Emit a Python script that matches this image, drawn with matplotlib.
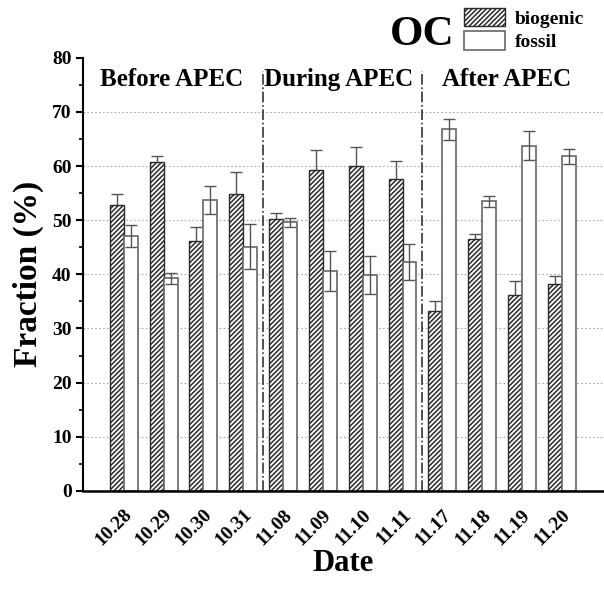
import matplotlib
matplotlib.use('Agg')
import matplotlib.pyplot as plt
from matplotlib.patches import Patch
import matplotlib.transforms as mtransforms
import numpy as np

dates = ['10.28', '10.29', '10.30', '10.31', '11.08', '11.09',
         '11.10', '11.11', '11.17', '11.18', '11.19', '11.20']
biogenic = [52.8, 60.7, 46.2, 54.9, 50.3, 59.3, 60.0, 57.7, 33.2, 46.5, 36.2, 38.2]
biogenic_err = [2.0, 1.1, 2.5, 4.0, 1.0, 3.7, 3.5, 3.3, 1.8, 1.0, 2.6, 1.5]
fossil = [47.1, 39.3, 53.8, 45.1, 49.6, 40.6, 39.9, 42.3, 66.8, 53.5, 63.8, 61.8]
fossil_err = [2.0, 1.0, 2.6, 4.2, 0.9, 3.7, 3.5, 3.3, 1.9, 1.0, 2.7, 1.4]
periods = ['Before APEC', 'During APEC', 'After APEC']

plt.rcParams['font.family'] = ['Liberation Serif', 'DejaVu Serif']
plt.rcParams['font.weight'] = 'bold'
plt.rcParams['hatch.linewidth'] = 1.1

fig = plt.figure(figsize=(6.04, 5.9), dpi=100)
ax = fig.add_axes([0.137, 0.168, 0.863, 0.734])

x = np.arange(len(dates))
w = 0.35

# grid behind everything
for yv in range(10, 80, 10):
    ax.axhline(yv, color='#aaaaaa', linestyle=(0, (1.5, 2)), linewidth=0.8, zorder=0)

ax.errorbar(x - w / 2, biogenic, yerr=biogenic_err, fmt='none', ecolor='#555555',
            elinewidth=1.0, capsize=4, capthick=1.0, zorder=1)
ax.bar(x - w / 2, biogenic, w, color='white', edgecolor='#2a2a2a', hatch='///////',
       linewidth=1.0, zorder=2)
ax.bar(x + w / 2, fossil, w, color='white', edgecolor='#666666', linewidth=1.2, zorder=2)
ax.errorbar(x + w / 2, fossil, yerr=fossil_err, fmt='none', ecolor='#555555',
            elinewidth=1.0, capsize=4, capthick=1.0, zorder=3)

# period separators
for xv in [3.5, 7.5]:
    ax.plot([xv, xv], [0, 77.5], color='#333333', linestyle='-.', linewidth=1.2, zorder=3)

ax.text(1.2, 76, periods[0], fontsize=18, fontweight='bold', ha='center', va='center')
ax.text(5.4, 76, periods[1], fontsize=18, fontweight='bold', ha='center', va='center')
ax.text(9.62, 76, periods[2], fontsize=18, fontweight='bold', ha='center', va='center')

ax.set_xlim(-1.03, 12.06)
ax.set_ylim(0, 80)
ax.set_yticks(range(0, 81, 10))
ax.set_yticks(range(5, 80, 10), minor=True)
ax.set_xticks(x)
ax.set_xticklabels(dates, rotation=45, ha='right', rotation_mode='anchor',
                   fontsize=14, fontweight='bold')
shift = mtransforms.ScaledTranslation(14 / 100, 0, fig.dpi_scale_trans)
for lab in ax.get_xticklabels():
    lab.set_transform(lab.get_transform() + shift)
for lab in ax.get_yticklabels():
    lab.set_fontsize(14)
    lab.set_fontweight('bold')
ax.tick_params(axis='x', length=0, pad=11)
ax.tick_params(axis='y', which='major', direction='out', length=5, width=1.5, pad=3)
ax.tick_params(axis='y', which='minor', direction='out', length=3, width=1.2)

ax.spines['top'].set_visible(False)
ax.spines['right'].set_visible(False)
ax.spines['left'].set_linewidth(1.5)
ax.spines['bottom'].set_linewidth(1.8)

ax.set_ylabel('Fraction (%)', fontsize=24, fontweight='bold', labelpad=6)
ax.set_xlabel('Date', fontsize=22, fontweight='bold', labelpad=0)

# legend with "OC" label
fig.text(0.645, 0.94, 'OC', fontsize=31, fontweight='bold', ha='left', va='center')
handles = [Patch(facecolor='white', edgecolor='#2a2a2a', hatch='///////', label='biogenic'),
           Patch(facecolor='white', edgecolor='#666666', linewidth=1.2, label='fossil')]
fig.legend(handles=handles, loc='center left', bbox_to_anchor=(0.755, 0.95),
           frameon=False, fontsize=14, handlelength=2.1, handleheight=1.1,
           handletextpad=0.5, labelspacing=0.2, borderaxespad=0)

fig.savefig('out.png', dpi=100)
